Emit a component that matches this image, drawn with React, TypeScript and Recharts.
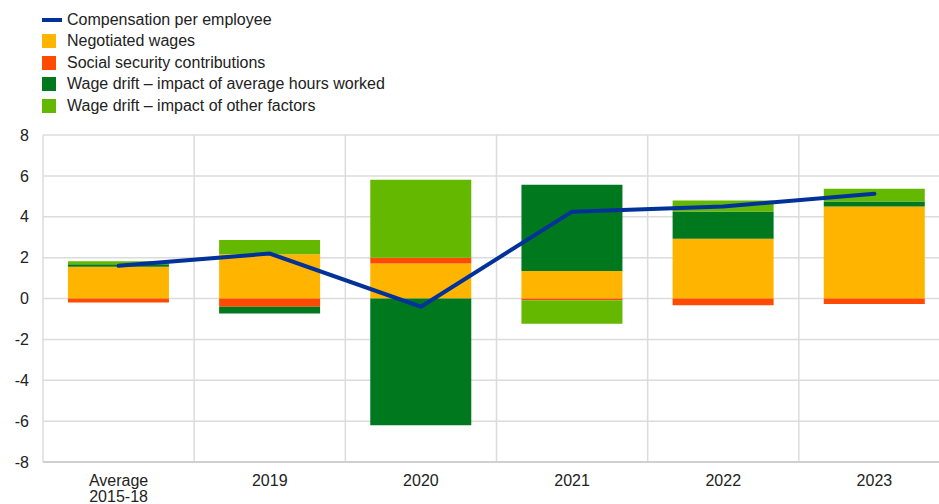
import React from "react";
import { ComposedChart, Bar, Line, XAxis, YAxis, CartesianGrid } from "recharts";

const categories = ["Average\n2015-18", "2019", "2020", "2021", "2022", "2023"];
const negotiatedWages = [1.55, 2.17, 1.71, 1.35, 2.92, 4.5];
const socialSecurity = [-0.2, -0.4, 0.28, -0.08, -0.33, -0.27];
const driftHours = [0.12, -0.33, -6.2, 4.22, 1.34, 0.25];
const driftOther = [0.15, 0.69, 3.82, -1.15, 0.54, 0.62];
const compensation = [1.6, 2.2, -0.4, 4.25, 4.5, 5.12];
const yTicks = [-8, -6, -4, -2, 0, 2, 4, 6, 8];

const COLORS = {
  comp: "#003299",
  neg: "#FFB400",
  soc: "#FF4B00",
  hours: "#00781E",
  other: "#65B800",
};

const data = categories.map((c, i) => ({
  cat: c,
  neg: negotiatedWages[i],
  soc: socialSecurity[i],
  hours: driftHours[i],
  other: driftOther[i],
  comp: compensation[i],
}));

const legendItems = [
  { label: "Compensation per employee", color: COLORS.comp, line: true },
  { label: "Negotiated wages", color: COLORS.neg },
  { label: "Social security contributions", color: COLORS.soc },
  { label: "Wage drift \u2013 impact of average hours worked", color: COLORS.hours },
  { label: "Wage drift \u2013 impact of other factors", color: COLORS.other },
];

const FONT = "'Liberation Sans', Arial, sans-serif";

const XTick = (props: any) => {
  const { x, y, payload } = props;
  const lines = String(payload.value).split("\n");
  return (
    <text x={x} y={y} textAnchor="middle" fill="#222" fontSize={16} fontFamily={FONT}>
      {lines.map((l, i) => (
        <tspan key={i} x={x} dy={i === 0 ? 16 : 15.5}>
          {l}
        </tspan>
      ))}
    </text>
  );
};

export default function App() {
  return (
    <div
      style={{
        position: "fixed",
        left: 0,
        top: 0,
        width: 939,
        height: 504,
        overflow: "hidden",
        background: "#fff",
        fontFamily: FONT,
      }}
    >
      <div style={{ position: "absolute", left: 42, top: 9, zIndex: 2 }}>
        {legendItems.map((it, i) => (
          <div
            key={i}
            style={{ display: "flex", alignItems: "center", height: 21.5, fontSize: 16, color: "#222" }}
          >
            {it.line ? (
              <div style={{ width: 20, height: 4, background: it.color, marginRight: 5 }} />
            ) : (
              <div style={{ width: 14, height: 14, background: it.color, marginRight: 11 }} />
            )}
            <span>{it.label}</span>
          </div>
        ))}
      </div>
      <ComposedChart
        width={960}
        height={504}
        data={data}
        stackOffset="sign"
        margin={{ top: 135, right: 10, bottom: 0, left: 0 }}
        barCategoryGap="16.5%"
      >
        <CartesianGrid
          stroke="#dcdcdc"
          strokeWidth={1.5}
          verticalCoordinatesGenerator={(p: any) => {
            const off = p.offset;
            const n = categories.length;
            return Array.from({ length: n + 1 }, (_, i) => off.left + (i * off.width) / n);
          }}
        />
        <XAxis
          dataKey="cat"
          height={42}
          tickLine={false}
          axisLine={{ stroke: "#d0d0d0", strokeWidth: 2 }}
          tick={<XTick />}
          interval={0}
        />
        <YAxis
          width={43}
          domain={[-8, 8]}
          ticks={yTicks}
          axisLine={false}
          tickLine={false}
          tickSize={0}
          tickMargin={14}
          tick={{ fill: "#222", fontSize: 16, fontFamily: FONT }}
          allowDataOverflow
        />
        <Bar dataKey="neg" stackId="a" fill={COLORS.neg} isAnimationActive={false} />
        <Bar dataKey="soc" stackId="a" fill={COLORS.soc} isAnimationActive={false} />
        <Bar dataKey="hours" stackId="a" fill={COLORS.hours} isAnimationActive={false} />
        <Bar dataKey="other" stackId="a" fill={COLORS.other} isAnimationActive={false} />
        <Line
          dataKey="comp"
          type="linear"
          stroke={COLORS.comp}
          strokeWidth={4}
          dot={false}
          strokeLinecap="round"
          isAnimationActive={false}
        />
      </ComposedChart>
    </div>
  );
}
